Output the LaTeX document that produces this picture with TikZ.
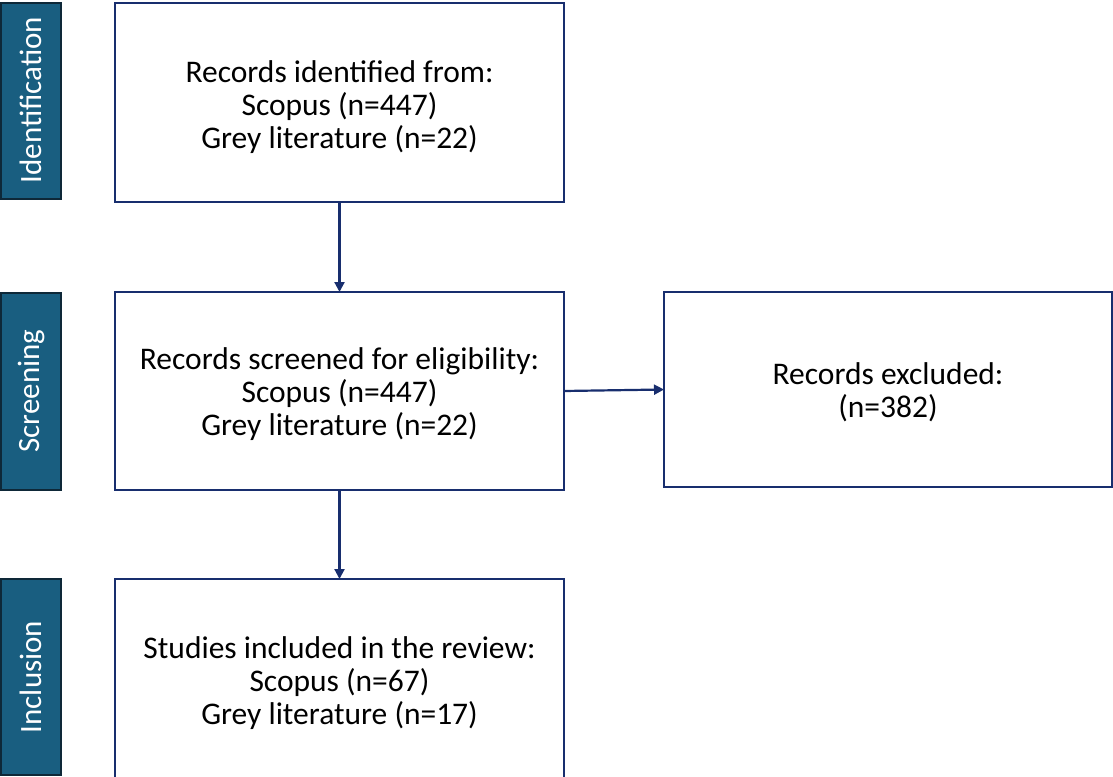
\documentclass[tikz,border=0pt]{standalone}
\usepackage{fontspec}
\setmainfont{Carlito}
\usetikzlibrary{arrows.meta}
\definecolor{barfill}{RGB}{25,94,128}
\definecolor{barline}{RGB}{14,40,56}
\definecolor{navy}{RGB}{24,46,110}
\tikzset{
  stagebar/.style={draw=barline, line width=2pt, fill=barfill, minimum width=60pt, outer sep=0pt,
    inner sep=0pt},
  stagetext/.style={rotate=90, text=white, font=\fontsize{31}{36}\selectfont},
  flowbox/.style={draw=navy, line width=2.5pt, fill=white, minimum width=449pt, outer sep=0pt},
  flowtext/.style={align=center, font=\fontsize{31.5}{33}\selectfont},
  flowarrow/.style={draw=navy, line width=2.2pt, -{Triangle[width=10pt,length=10pt]}}
}
\begin{document}
\begin{tikzpicture}[x=1pt,y=-1pt]
\useasboundingbox (0,0) rectangle (1113,776);
\clip (0,0) rectangle (1113,776);
% stage bars
\node[stagebar, minimum height=196pt] (s1) at (31,101) {};
\node[stagetext] (s1t) at (31,100) {Identification};
\node[stagebar, minimum height=197pt] (s2) at (31,391.5) {};
\node[stagetext] (s2t) at (31,391) {Screening};
\node[stagebar, minimum height=196pt] (s3) at (31,677) {};
\node[stagetext] (s3t) at (31,677) {Inclusion};
% boxes
\node[flowbox, minimum height=199pt] (b1) at (339.5,102.5) {};
\node[flowtext] (b1t) at (339.5,107) {Records identified from:\\Scopus (n=447)\\Grey literature (n=22)};
\node[flowbox, minimum height=198pt] (b2) at (339.5,391) {};
\node[flowtext] (b2t) at (339.5,394) {Records screened for eligibility:\\Scopus (n=447)\\Grey literature (n=22)};
\node[flowbox, minimum height=210pt] (b3) at (339.5,684) {};
\node[flowtext] (b3t) at (339.5,683) {Studies included in the review:\\Scopus (n=67)\\Grey literature (n=17)};
\node[flowbox, minimum width=448pt, minimum height=195pt] (ex) at (888,389.5) {};
\node[flowtext] (ext) at (888,392) {Records excluded:\\(n=382)};
% arrows
\draw[flowarrow] (b1.south) -- (b2.north);
\draw[flowarrow] (b2.south) -- (b3.north);
\draw[flowarrow] (b2.east) -- (ex.west);
\end{tikzpicture}
\end{document}
